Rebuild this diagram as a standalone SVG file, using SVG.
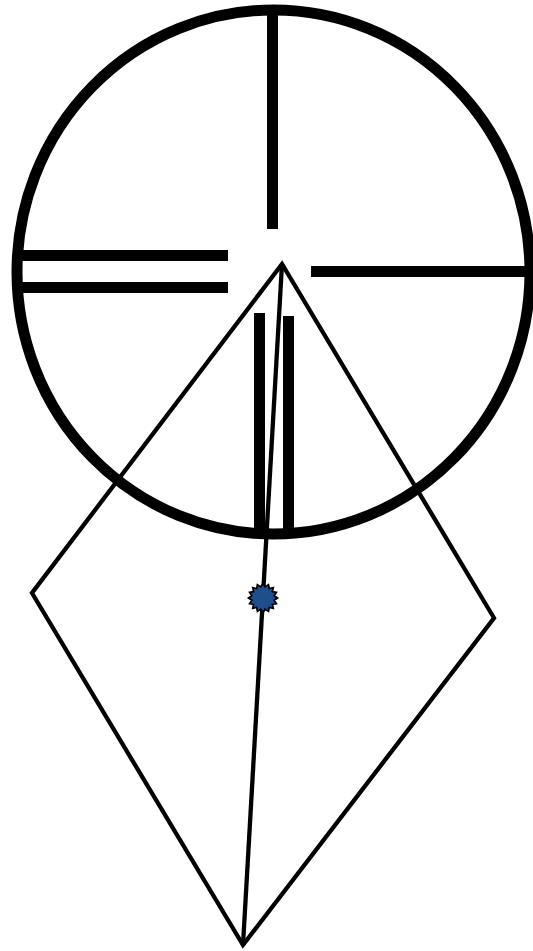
<svg xmlns="http://www.w3.org/2000/svg" width="533" height="951" viewBox="0 0 533 951">
<style>
.bar{fill:#000}
.ln{fill:none;stroke:#000;stroke-width:4.3;stroke-linejoin:miter}
</style>
<rect width="533" height="951" fill="#fff"/>
<g id="reticle">
<ellipse cx="273.5" cy="272" rx="256.5" ry="262" fill="none" stroke="#000" stroke-width="11"/>
<rect class="bar" x="267" y="8" width="11" height="221"/>
<rect class="bar" x="18" y="250" width="210" height="11"/>
<rect class="bar" x="18" y="282" width="210" height="11"/>
<rect class="bar" x="311" y="266" width="219" height="11"/>
<rect class="bar" x="254" y="313" width="11" height="220"/>
<rect class="bar" x="283" y="316" width="11" height="217"/>
</g>
<g id="kite">
<polygon class="ln" points="282,264 32,593 243,945 494,618"/>
<line class="ln" x1="282" y1="264" x2="243" y2="945"/>
</g>
<g id="star">
<polygon fill="#1F4E8C" stroke="#000" stroke-width="1.5" transform="translate(263,598) scale(1.12) translate(-263,-598)" points="276.0,598.0 272.9,600.0 275.0,603.0 271.4,603.7 272.2,607.2 268.6,606.4 267.9,610.0 264.9,607.9 263.0,611.0 261.0,607.9 258.0,610.0 257.3,606.4 253.8,607.2 254.6,603.7 251.0,603.0 253.1,600.0 250.0,598.0 253.1,596.0 251.0,593.0 254.6,592.3 253.8,588.8 257.3,589.6 258.0,586.0 261.0,588.1 263.0,585.0 264.9,588.1 267.9,586.0 268.6,589.6 272.2,588.8 271.4,592.3 275.0,593.0 272.9,596.0"/>
</g>
</svg>
